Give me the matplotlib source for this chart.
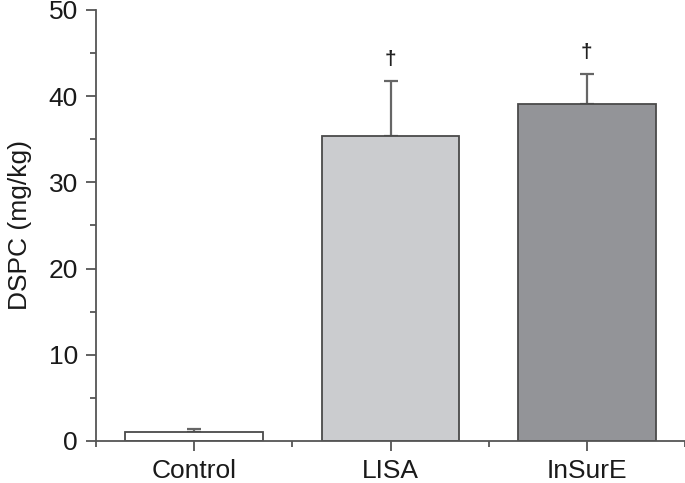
import matplotlib
matplotlib.use("Agg")
import matplotlib.pyplot as plt
from matplotlib.ticker import MultipleLocator, FixedLocator

categories = ["Control", "LISA", "InSurE"]
means = [1.1, 35.4, 39.1]
errors = [0.35, 6.4, 3.5]
colors = ["#ffffff", "#cbcccf", "#939498"]
markers = ["", "\u2020", "\u2020"]

plt.rcParams['font.family'] = ['Liberation Sans', 'DejaVu Sans']
edge = "#4a4a4a"

fig = plt.figure(figsize=(6.85, 4.83), dpi=100)
ax = fig.add_axes([96/685, 42/483, 589/685, 431/483])

x = list(range(len(categories)))
ax.bar(x, means, width=0.70, color=colors, edgecolor=edge, linewidth=1.3, zorder=2)
ax.errorbar(x, means, yerr=[[0]*len(errors), errors], fmt="none", ecolor="#666666",
            elinewidth=1.6, capsize=5, capthick=1.6, zorder=1)
for xi, m, e, s in zip(x, means, errors, markers):
    if s:
        ax.text(xi, m + e + 1.4, s, ha="center", va="bottom", fontsize=15,
                fontweight="bold", color="#222222")

ax.set_xlim(-0.5, 2.5)
ax.set_ylim(0, 50)
ax.yaxis.set_major_locator(MultipleLocator(10))
ax.yaxis.set_minor_locator(MultipleLocator(5))
ax.set_xticks(x)
ax.set_xticklabels(categories)
ax.xaxis.set_minor_locator(FixedLocator([-0.5, 0.5, 1.5, 2.5]))

for s in ["top", "right"]:
    ax.spines[s].set_visible(False)
for s in ["left", "bottom"]:
    ax.spines[s].set_color("#555555")
    ax.spines[s].set_linewidth(1.3)

ax.tick_params(axis="both", which="major", length=7, width=1.3, color="#555555",
               labelsize=19, labelcolor="#1a1a1a", pad=6)
ax.tick_params(axis="both", which="minor", length=4, width=1.3, color="#555555")
ax.set_ylabel("DSPC (mg/kg)", fontsize=19, color="#1a1a1a", labelpad=12)

fig.savefig("out.png", dpi=100)
